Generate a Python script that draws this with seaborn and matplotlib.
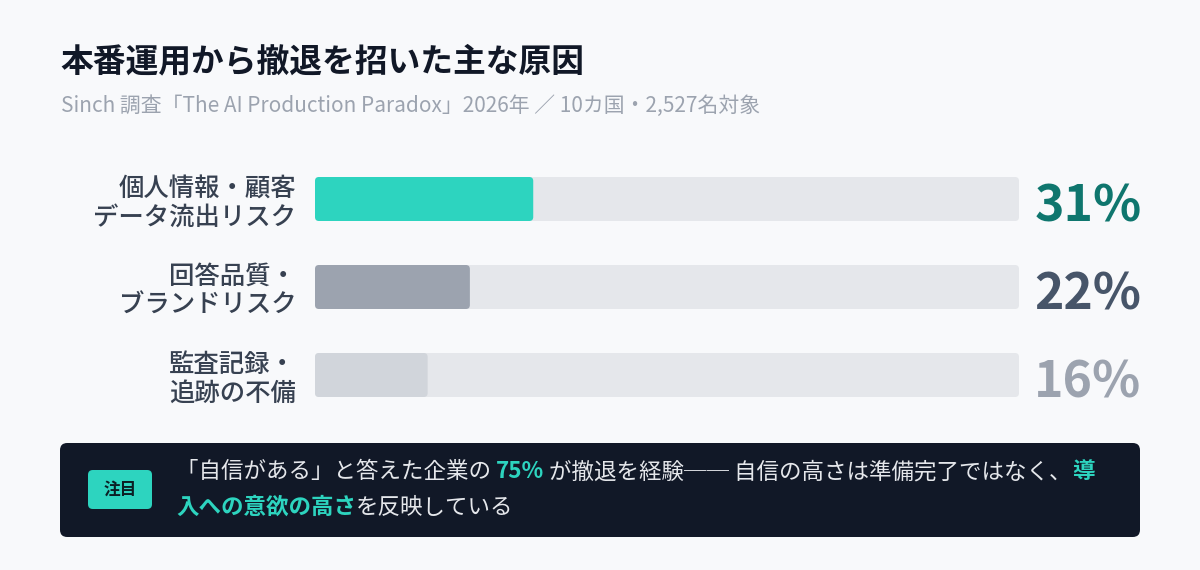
import matplotlib
matplotlib.use('Agg')
import matplotlib.pyplot as plt
from matplotlib.patches import FancyBboxPatch
import seaborn as sns
import pandas as pd

# Data
categories = ['個人情報・顧客\nデータ流出リスク', '回答品質・\nブランドリスク', '監査記録・\n追跡の不備']
values = [31, 22, 16]
pct_labels = ['31%', '22%', '16%']
bar_colors = ['#2dd4bf', '#9ca3af', '#d1d5db']
pct_colors = ['#0f766e', '#475569', '#9ca3af']
track_max = 100

title = '本番運用から撤退を招いた主な原因'
subtitle = 'Sinch 調査「The AI Production Paradox」2026年 ／ 10カ国・2,527名対象'
badge = '注目'
note_lines = [
    [('「自信がある」と答えた企業の ', False), ('75%', True),
     (' が撤退を経験── 自信の高さは準備完了ではなく、', False), ('導', True)],
    [('入への意欲の高さ', True), ('を反映している', False)],
]

BG = '#f8f9fb'
TRACK = '#e5e7eb'
W, H = 1200, 570

sns.set_theme(style='white')
plt.rcParams['font.family'] = ['Noto Sans CJK JP', 'DejaVu Sans']

fig = plt.figure(figsize=(W / 100, H / 100), dpi=100, facecolor=BG)


def px(x, y):
    return x / W, 1 - y / H


# bar axes, placed in pixels
ax = fig.add_axes([315 / W, (H - 419) / H, 704 / W, 264 / H])
ax.set_facecolor(BG)
df = pd.DataFrame({'cat': categories, 'val': values, 'track': [track_max] * 3})
sns.barplot(data=df, x='track', y='cat', color=TRACK, width=0.5, ax=ax,
            saturation=1)
sns.barplot(data=df, x='val', y='cat', hue='cat', palette=bar_colors,
            width=0.5, ax=ax, legend=False, saturation=1)
ax.set_xlim(0, track_max)
ax.set_ylim(2.5, -0.5)

# round the bar corners
xpp = track_max / 704
ypp = 3 / 264
for p in list(ax.patches):
    x0, y0 = p.get_x(), p.get_y()
    w, h = p.get_width(), p.get_height()
    fc = p.get_facecolor()
    p.remove()
    ax.add_patch(FancyBboxPatch((x0, y0), w, h,
                                boxstyle=f'round,pad=0,rounding_size={4 * xpp}',
                                mutation_aspect=ypp / xpp, fc=fc, ec='none',
                                zorder=2))

ax.set_xlabel('')
ax.set_ylabel('')
ax.set_xticks([])
ax.set_yticks(range(len(categories)))
ax.set_yticklabels(categories, fontsize=18.3, color='#374151', linespacing=1.12,
                   fontweight='medium')
ax.tick_params(axis='y', length=0, pad=13.5)
sns.despine(ax=ax, left=True, bottom=True)

for i, (lab, col) in enumerate(zip(pct_labels, pct_colors)):
    ax.annotate(lab, xy=(track_max, i), xytext=(11, -2), textcoords='offset points',
                ha='left', va='center_baseline', fontsize=36, fontweight='bold',
                color=col)

# title and subtitle
fig.text(*px(60, 62), title, fontsize=23.6, fontweight='bold', color='#111827',
         ha='left', va='center')
fig.text(*px(61, 106), subtitle, fontsize=15, color='#9ca3af', ha='left',
         va='center')

# callout box
fig.patches.append(FancyBboxPatch(px(60, 537), 1080 / W, 94 / H,
                                  boxstyle='round,pad=0,rounding_size=0.006',
                                  transform=fig.transFigure, fc='#111827',
                                  ec='none', mutation_aspect=W / H))
fig.patches.append(FancyBboxPatch(px(88, 509), 64 / W, 39 / H,
                                  boxstyle='round,pad=0,rounding_size=0.004',
                                  transform=fig.transFigure, fc='#2dd4bf',
                                  ec='none', mutation_aspect=W / H))
fig.text(*px(120, 490), badge, fontsize=12, fontweight='bold', color='#0b1f24',
         ha='center', va='center')

renderer = fig.canvas.get_renderer()
for line, y in zip(note_lines, [472, 507]):
    x = 176
    for seg, hl in line:
        t = fig.text(*px(x, y), seg, fontsize=16.2, ha='left', va='center',
                     color='#2dd4bf' if hl else '#e5e7eb',
                     fontweight='bold' if hl else 'normal')
        x += t.get_window_extent(renderer).width

fig.savefig('out.png', dpi=100, facecolor=BG)
